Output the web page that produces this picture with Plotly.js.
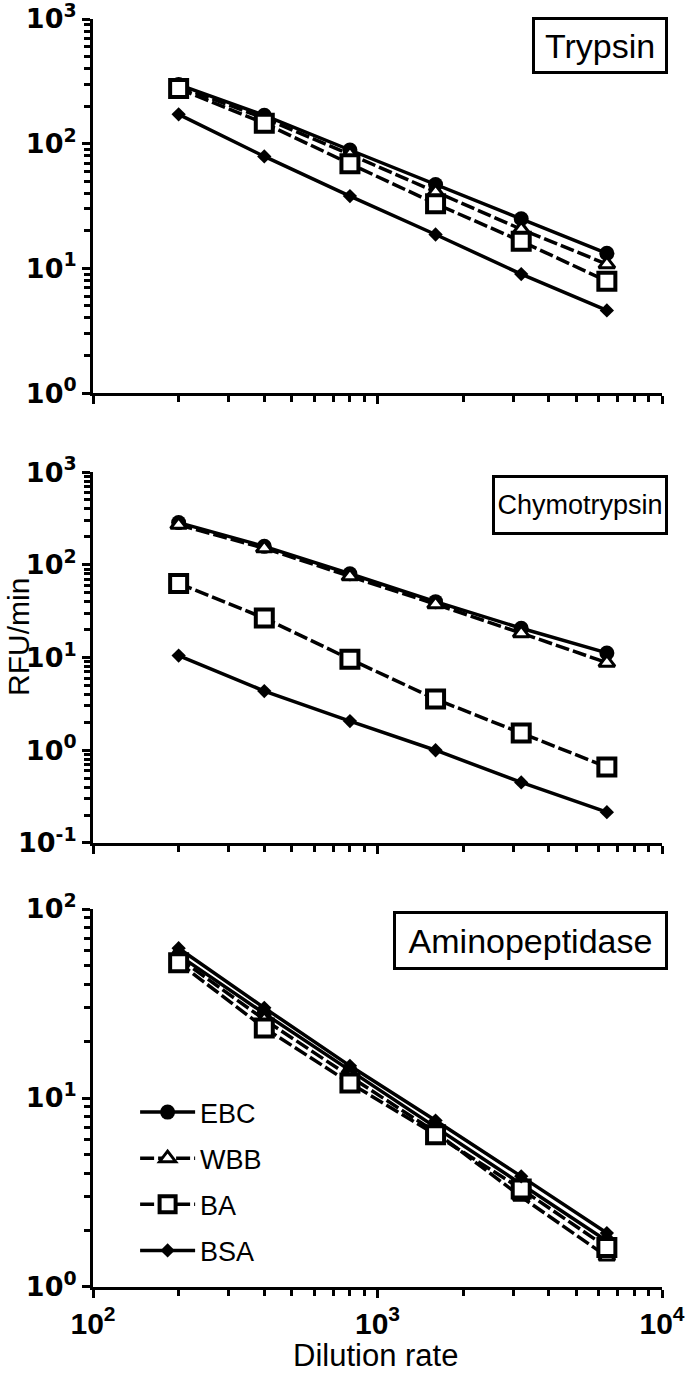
<!DOCTYPE html>
<html>
<head>
<meta charset="utf-8">
<script src="https://cdn.plot.ly/plotly-3.0.1.min.js"></script>
<style>body{margin:0;background:#fff}</style>
</head>
<body>
<div id="chart" style="width:685px;height:1375px"></div>
<script>
// dilution steps (x axis)
var dilution = [200, 400, 800, 1600, 3200, 6400];
var seriesNames = ['EBC', 'WBB', 'BA', 'BSA'];

// Trypsin, RFU/min
var trypsinEBC = [298, 169, 89, 47, 25, 13.2];
var trypsinWBB = [288, 160, 82, 41, 20.6, 10.8];
var trypsinBA  = [277, 146, 69, 33, 16.5, 7.9];
var trypsinBSA = [172, 79, 38, 18.7, 9.0, 4.6];

// Chymotrypsin
var chymoEBC = [285, 158, 80, 40, 20.7, 11.2];
var chymoWBB = [270, 151, 75, 37.6, 18.3, 8.8];
var chymoBA  = [63, 26.6, 9.6, 3.56, 1.53, 0.66];
var chymoBSA = [10.5, 4.35, 2.06, 1.0, 0.45, 0.215];

// Aminopeptidase
var aminoEBC = [57, 28, 14, 7.0, 3.5, 1.75];
var aminoWBB = [55, 26, 13, 6.6, 3.0, 1.45];
var aminoBA  = [52, 23.5, 12, 6.4, 3.3, 1.62];
var aminoBSA = [62, 30, 14.8, 7.6, 3.85, 1.93];

var panelNames = ['Trypsin', 'Chymotrypsin', 'Aminopeptidase'];

var panels = [
  {x: 'x', y: 'y', data: [trypsinEBC, trypsinWBB, trypsinBA, trypsinBSA]},
  {x: 'x2', y: 'y2', data: [chymoEBC, chymoWBB, chymoBA, chymoBSA]},
  {x: 'x3', y: 'y3', data: [aminoEBC, aminoWBB, aminoBA, aminoBSA]}
];

var markerStyle = {
  EBC: {symbol: 'circle', color: 'black', size: 15, lw: 0, dash: 'solid'},
  WBB: {symbol: 'triangle-up', color: 'white', size: 14, lw: 3, dash: '14px,4px'},
  BA:  {symbol: 'square', color: 'white', size: 17, lw: 4, dash: '14px,4px'},
  BSA: {symbol: 'diamond', color: 'black', size: 11, lw: 0, dash: 'solid'}
};

var traces = [];
panels.forEach(function (p, pi) {
  seriesNames.forEach(function (name, si) {
    var s = markerStyle[name];
    traces.push({
      x: dilution,
      y: p.data[si],
      xaxis: p.x,
      yaxis: p.y,
      name: name,
      legendgroup: name,
      showlegend: pi === 2,
      mode: 'lines+markers',
      line: {color: 'black', width: 3.5, dash: s.dash},
      marker: {symbol: s.symbol, color: s.color, size: s.size,
               line: {color: 'black', width: s.lw}},
      cliponaxis: false
    });
  });
});

function minorVals(lo, hi) {
  var v = [];
  for (var d = lo; d < hi; d++) {
    for (var k = 2; k <= 9; k++) v.push(k * Math.pow(10, d));
  }
  return v;
}

function powLabel(p) {
  return '10<sup>' + (p < 0 ? '-' + (-p) : p) + '</sup>';
}

var xTickVals = [100, 1000, 10000];
var xTickText = [powLabel(2), powLabel(3), powLabel(4)];

function xAxis(anchor, labels) {
  return {
    type: 'log', range: [2, 4], anchor: anchor,
    showline: true, linewidth: 3, linecolor: 'black',
    ticks: 'outside', ticklen: 8, tickwidth: 3, tickcolor: 'black',
    tickmode: 'array', tickvals: xTickVals, ticktext: xTickText,
    showticklabels: labels, ticklabeloverflow: 'allow',
    tickfont: {family: 'Liberation Sans', size: 30, weight: 'bold', color: 'black'},
    minor: {tickvals: minorVals(2, 4), ticks: 'outside', ticklen: 6, tickwidth: 3, tickcolor: 'black'},
    showgrid: false, zeroline: false
  };
}

function yAxis(lo, hi, domain, anchor) {
  var vals = [], text = [];
  for (var p = lo; p <= hi; p++) { vals.push(Math.pow(10, p)); text.push(powLabel(p)); }
  return {
    type: 'log', range: [lo, hi], domain: domain, anchor: anchor,
    showline: true, linewidth: 3, linecolor: 'black',
    ticks: 'outside', ticklen: 8, tickwidth: 3, tickcolor: 'black',
    tickmode: 'array', tickvals: vals, ticktext: text, ticklabeloverflow: 'allow',
    tickfont: {family: 'DejaVu Sans', size: 27, weight: 'bold', color: 'black'},
    minor: {tickvals: minorVals(lo, hi), ticks: 'outside', ticklen: 6, tickwidth: 3, tickcolor: 'black'},
    showgrid: false, zeroline: false
  };
}

function titleBox(text, top, w, h, size) {
  return {
    text: text, xref: 'paper', yref: 'paper', x: 1.0105, y: top,
    xanchor: 'right', yanchor: 'top', showarrow: false,
    width: w, height: h, borderpad: 2,
    bordercolor: 'black', borderwidth: 3, bgcolor: 'white',
    font: {family: 'Liberation Sans', size: size, color: 'black'}
  };
}

var layout = {
  width: 685, height: 1375,
  margin: {l: 93, r: 23, t: 19, b: 88},
  paper_bgcolor: 'white', plot_bgcolor: 'white',
  xaxis: xAxis('y', false),
  xaxis2: xAxis('y2', false),
  xaxis3: xAxis('y3', true),
  yaxis: yAxis(0, 3, [0.7050, 1], 'x'),
  yaxis2: yAxis(-1, 3, [0.3502, 0.6427], 'x2'),
  yaxis3: yAxis(0, 2, [0, 0.2981], 'x3'),
  legend: {
    x: 0.074, y: 0.1569, xanchor: 'left', yanchor: 'top',
    traceorder: 'grouped', tracegroupgap: 8, itemwidth: 55,
    bgcolor: 'rgba(0,0,0,0)',
    font: {family: 'Liberation Sans', size: 27, color: 'black'}
  },
  annotations: [
    titleBox(panelNames[0], 1.0016, 126, 47, 34),
    titleBox(panelNames[1], 0.6404, 166, 50, 27),
    titleBox(panelNames[2], 0.2965, 265, 49, 34),
    {text: 'RFU/min', xref: 'paper', yref: 'paper', x: -0.1320, y: 0.5126,
     xanchor: 'center', yanchor: 'middle', textangle: -90, showarrow: false,
     font: {family: 'Liberation Sans', size: 30, color: 'black'}},
    {text: 'Dilution rate', xref: 'paper', yref: 'paper', x: 0.497, y: -0.0544,
     xanchor: 'center', yanchor: 'middle', showarrow: false,
     font: {family: 'Liberation Sans', size: 31, color: 'black'}}
  ]
};

Plotly.newPlot('chart', traces, layout, {displayModeBar: false, staticPlot: true});
</script>
</body>
</html>
